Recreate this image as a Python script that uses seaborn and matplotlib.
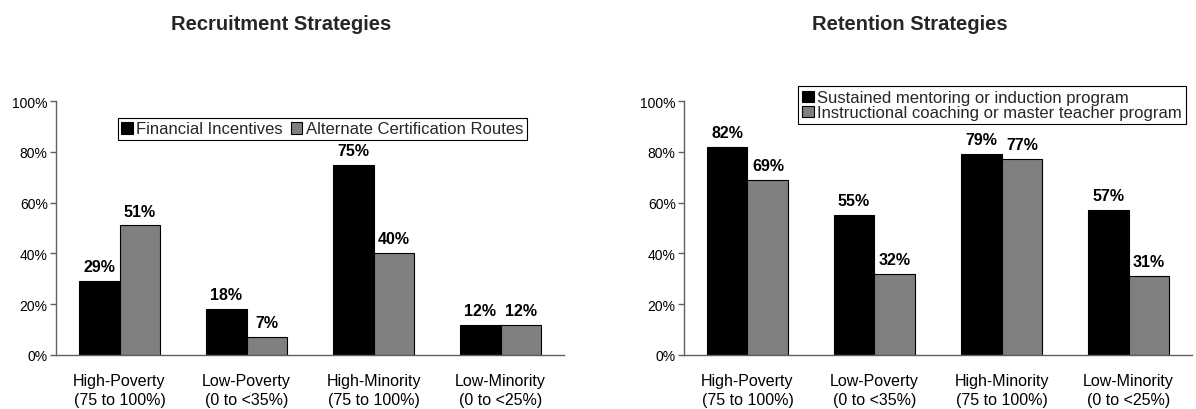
import matplotlib
matplotlib.use("Agg")
import matplotlib.pyplot as plt
import seaborn as sns
import pandas as pd
from matplotlib.patches import Patch
from matplotlib.ticker import FixedLocator, FuncFormatter

# Category labels shared by both panels
categories = [
    "High-Poverty\n(75 to 100%)",
    "Low-Poverty\n(0 to <35%)",
    "High-Minority\n(75 to 100%)",
    "Low-Minority\n(0 to <25%)",
]

# Recruitment panel
recruit_series = ["Financial Incentives", "Alternate Certification Routes"]
financial = [29, 18, 75, 12]
alternate = [51, 7, 40, 12]

# Retention panel
retention_series = [
    "Sustained mentoring or induction program",
    "Instructional coaching or master teacher program",
]
mentoring = [82, 55, 79, 57]
coaching = [69, 32, 77, 31]

y_ticks = [0, 20, 40, 60, 80, 100]

COLORS = ["#000000", "#808080"]
AXIS_COLOR = "#606060"
FONT = ["Liberation Sans", "DejaVu Sans"]

sns.set_theme(style="white")
plt.rcParams["font.family"] = FONT


def long_frame(series_names, series_values):
    rows = []
    for name, values in zip(series_names, series_values):
        for cat, v in zip(categories, values):
            rows.append({"group": cat, "series": name, "value": v})
    return pd.DataFrame(rows)


def draw_panel(ax, series_names, series_values):
    df = long_frame(series_names, series_values)
    sns.barplot(
        data=df, x="group", y="value", hue="series",
        order=categories, hue_order=series_names,
        palette=COLORS, width=0.645, edgecolor="black", linewidth=0.8,
        saturation=1, ax=ax, legend=False,
    )
    for container, values in zip(ax.containers, series_values):
        ax.bar_label(container, labels=[f"{v}%" for v in values], padding=5,
                     fontsize=11.5, fontweight="bold", color="black")
    ax.set_ylim(0, 100)
    ax.set_xlim(-0.5, 3.5)
    ax.yaxis.set_major_locator(FixedLocator(y_ticks))
    ax.yaxis.set_major_formatter(FuncFormatter(lambda v, _: f"{v:.0f}%"))
    ax.set_xlabel("")
    ax.set_ylabel("")
    for side in ("top", "right"):
        ax.spines[side].set_visible(False)
    for side in ("left", "bottom"):
        ax.spines[side].set_color(AXIS_COLOR)
        ax.spines[side].set_linewidth(1.0)
    ax.tick_params(axis="y", which="major", left=True, length=4, width=1,
                   color=AXIS_COLOR, labelsize=10, labelcolor="black", pad=2)
    ax.tick_params(axis="x", which="major", bottom=False, labelsize=11.5,
                   labelcolor="black", pad=7)
    for lbl in ax.get_xticklabels():
        lbl.set_linespacing(1.35)


fig = plt.figure(figsize=(11.96, 4.10), dpi=100)
W, H = 1196, 410

ax1 = fig.add_axes([56 / W, (H - 356) / H, 508 / W, 254 / H])
ax2 = fig.add_axes([684 / W, (H - 356) / H, 508 / W, 254 / H])

draw_panel(ax1, recruit_series, [financial, alternate])
draw_panel(ax2, retention_series, [mentoring, coaching])

fig.text(281 / W, (H - 25) / H, "Recruitment Strategies", ha="center", va="center",
         fontsize=14.5, fontweight="bold")
fig.text(910 / W, (H - 25) / H, "Retention Strategies", ha="center", va="center",
         fontsize=14.5, fontweight="bold")

legend_style = dict(
    frameon=True, fancybox=False, edgecolor="black", framealpha=1,
    handlelength=0.7, handleheight=0.7, handletextpad=0.2,
    borderaxespad=0, fontsize=12,
)

h1 = [Patch(facecolor=c, edgecolor="black", linewidth=0.8) for c in COLORS]
leg1 = fig.legend(h1, recruit_series, loc="center",
                  bbox_to_anchor=(322 / W, (H - 130) / H), ncol=2,
                  columnspacing=0.5, borderpad=0.2, **legend_style)
leg1.get_frame().set_linewidth(0.8)

h2 = [Patch(facecolor=c, edgecolor="black", linewidth=0.8) for c in COLORS]
leg2 = fig.legend(h2, retention_series, loc="upper left",
                  bbox_to_anchor=(798 / W, (H - 87) / H), ncol=1,
                  labelspacing=0.0, borderpad=0.25, **legend_style)
leg2.get_frame().set_linewidth(0.8)

fig.savefig("out.png", dpi=100)
